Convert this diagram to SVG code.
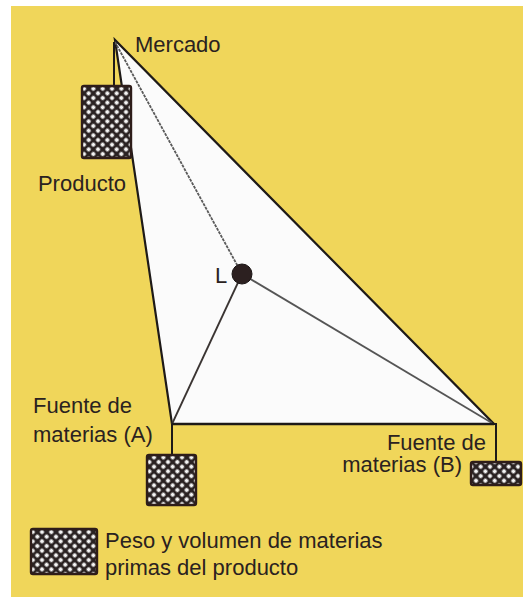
<svg xmlns="http://www.w3.org/2000/svg" width="523" height="597" viewBox="0 0 523 597">
<style>
.t{font-family:"Liberation Sans",Arial,sans-serif;font-size:22px;fill:#2a2220}
.box{fill:url(#hatch);stroke:#2e1d1a;stroke-width:2.4}
.ln{fill:none;stroke:#1e1a18;stroke-width:2}
</style>
<defs>
<pattern id="hatch" width="6.6" height="6.6" patternUnits="userSpaceOnUse" patternTransform="rotate(45)">
<rect width="6.6" height="6.6" fill="#2a2222"/>
<rect x="1.4" y="1.4" width="3.8" height="3.8" rx="1" fill="#f4f4f4"/>
</pattern>
</defs>
<rect x="0" y="0" width="523" height="597" fill="#ffffff"/>
<rect x="11" y="6" width="512" height="591" fill="#F0D65A"/>
<g id="connectors">
<polygon points="115,40 172,424 494,424" fill="#fbfbfb" stroke="#1e1a18" stroke-width="2.2" stroke-linejoin="miter"/>
<line x1="115" y1="42" x2="242" y2="274" stroke="#5a5a5a" stroke-width="1.8" stroke-dasharray="3 1"/>
<line x1="242" y1="274" x2="172" y2="424" stroke="#3a3432" stroke-width="1.8"/>
<line x1="242" y1="274" x2="492" y2="423" stroke="#555" stroke-width="1.8"/>
<line x1="172" y1="424" x2="494" y2="424" stroke="#1e1a18" stroke-width="2.6"/>
<polyline class="ln" points="114,42 114,86" stroke-width="1.6"/>
<polyline class="ln" points="172,424 172,455" stroke-width="1.6"/>
<polyline class="ln" points="493,424 496,424 496,462" stroke-width="1.6"/>
</g>
<g id="mercado">
<text class="t" x="135" y="52">Mercado</text>
</g>
<g id="producto">
<rect class="box" x="82" y="86" width="49" height="72" rx="2"/>
<text class="t" x="126" y="191" text-anchor="end">Producto</text>
</g>
<g id="L">
<circle cx="242" cy="274" r="10" fill="#2c2020" stroke="#1a1414" stroke-width="1"/>
<text class="t" x="215" y="283">L</text>
</g>
<g id="fuenteA">
<rect class="box" x="147" y="455" width="49" height="50" rx="2"/>
<text class="t" x="33" y="413">Fuente de</text>
<text class="t" x="33" y="442">materias (A)</text>
</g>
<g id="fuenteB">
<rect class="box" x="471" y="462" width="50" height="23" rx="2"/>
<text class="t" x="486" y="450" text-anchor="end">Fuente de</text>
<text class="t" x="462" y="472" text-anchor="end">materias (B)</text>
</g>
<g id="legend">
<rect class="box" x="31" y="529" width="66" height="45" rx="2"/>
<text class="t" x="105" y="548">Peso y volumen de materias</text>
<text class="t" x="105" y="575">primas del producto</text>
</g>
</svg>
